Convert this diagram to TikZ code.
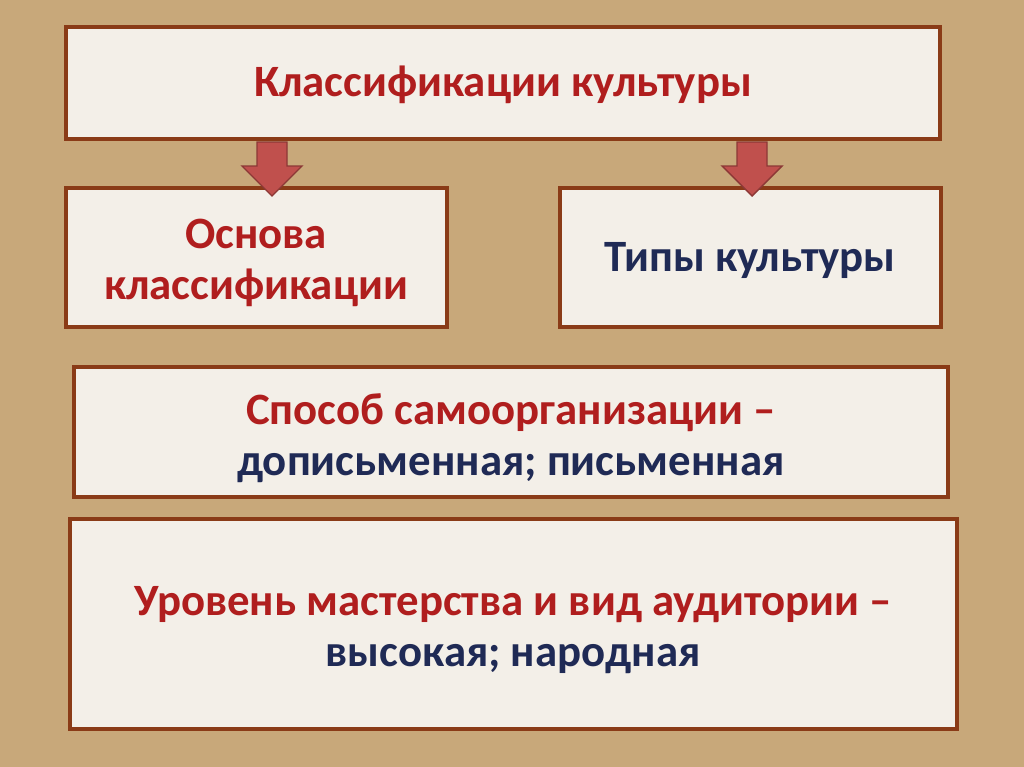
\documentclass[tikz,border=0pt]{standalone}
\usepackage{fontspec}
\setmainfont{Carlito}
\definecolor{sand}{HTML}{C8A87A}
\definecolor{boxfill}{HTML}{F3EFE8}
\definecolor{boxline}{HTML}{8A3B17}
\definecolor{redtxt}{HTML}{B01E1E}
\definecolor{navytxt}{HTML}{1F2A55}
\definecolor{arrfill}{HTML}{C0504D}
\definecolor{arrline}{HTML}{8C3836}
\begin{document}
\begin{tikzpicture}[x=0.02cm,y=-0.02cm,
  box/.style={draw=boxline,line width=4.5pt*0.02cm/1pt,fill=boxfill},
  txt/.style={font=\bfseries\fontsize{25.5}{29}\selectfont,align=center},
  blockarrow/.style={fill=arrfill,draw=arrline,line width=0.8pt}]
\fill[sand] (0,0) rectangle (1024,767);
\draw[box] (66,27) rectangle (940,139);
\draw[box] (66,188) rectangle (447,327);
\draw[box] (560,188) rectangle (941,327);
\draw[box] (74,367) rectangle (948,497);
\draw[box] (70,519) rectangle (957,729);
\node[txt,text=redtxt] (t1) at (503,85) {Классификации культуры};
\node[txt,text=redtxt] (t2) at (256,263) {Основа\\классификации};
\node[txt,text=navytxt] (t3) at (750,260) {Типы культуры};
\node[txt] (t4) at (511,438) {\textcolor{redtxt}{Способ самоорганизации –}\\\textcolor{navytxt}{дописьменная; письменная}};
\node[txt] (t5) at (513,630) {\textcolor{redtxt}{Уровень мастерства и вид аудитории –}\\\textcolor{navytxt}{высокая; народная}};
\foreach \cx in {272,752}{
  \draw[blockarrow] (\cx-15,142) -- (\cx+15,142) -- (\cx+15,166) -- (\cx+30,166) -- (\cx,196) -- (\cx-30,166) -- (\cx-15,166) -- cycle;
}
\end{tikzpicture}
\end{document}
